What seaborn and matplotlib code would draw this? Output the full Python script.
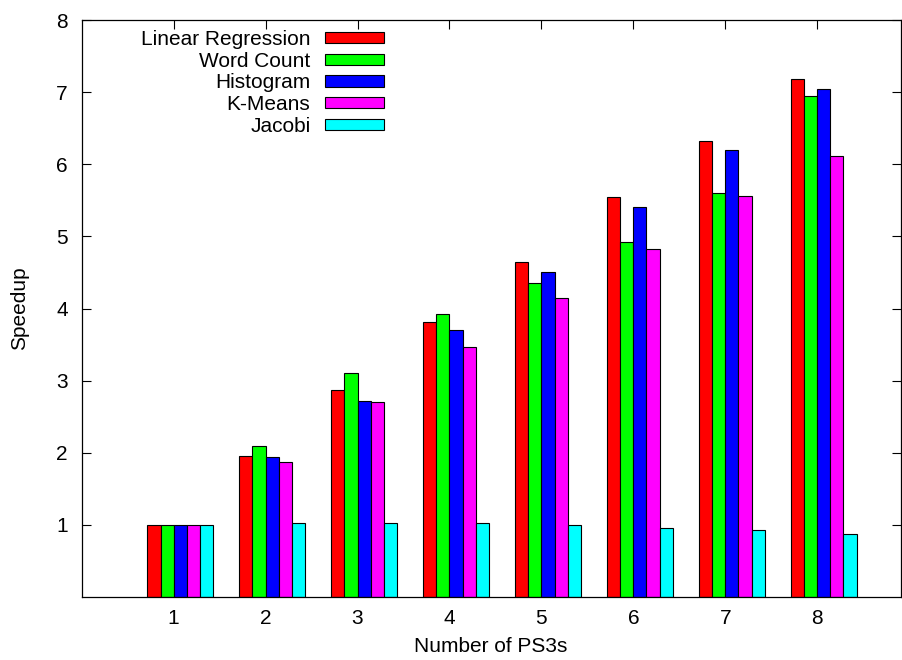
import numpy as np
import pandas as pd
import matplotlib
matplotlib.use("Agg")
import matplotlib.pyplot as plt
import seaborn as sns

# Speedup of each benchmark versus number of PS3 nodes
ps3_counts = [1, 2, 3, 4, 5, 6, 7, 8]
linear_regression = [1.00, 1.96, 2.87, 3.81, 4.64, 5.54, 6.32, 7.18]
word_count = [1.00, 2.09, 3.10, 3.93, 4.35, 4.92, 5.60, 6.95]
histogram = [1.00, 1.94, 2.72, 3.70, 4.51, 5.41, 6.20, 7.04]
k_means = [1.00, 1.87, 2.70, 3.47, 4.14, 4.82, 5.56, 6.11]
jacobi = [1.00, 1.03, 1.02, 1.03, 1.00, 0.95, 0.93, 0.88]

benchmarks = ["Linear Regression", "Word Count", "Histogram", "K-Means", "Jacobi"]
series = [linear_regression, word_count, histogram, k_means, jacobi]
colors = ["#ff0000", "#00ff00", "#0000ff", "#ff00ff", "#00ffff"]
y_ticks = [1, 2, 3, 4, 5, 6, 7, 8]

rows = []
for name, vals in zip(benchmarks, series):
    for n, v in zip(ps3_counts, vals):
        rows.append({"PS3s": n, "Speedup": v, "Benchmark": name})
df = pd.DataFrame(rows)

sns.set_style("ticks")
plt.rcParams["font.family"] = ["Liberation Sans", "DejaVu Sans"]
plt.rcParams["font.size"] = 15
plt.rcParams["text.color"] = "black"
plt.rcParams["axes.labelcolor"] = "black"

W, H = 902, 660
fig = plt.figure(figsize=(W / 100, H / 100), dpi=100)
left, right, top, bottom = 81.7, 901, 20, 597
ax = fig.add_axes([left / W, 1 - bottom / H, (right - left) / W, (bottom - top) / H])

sns.barplot(
    data=df, x="PS3s", y="Speedup", hue="Benchmark", hue_order=benchmarks,
    palette=colors, native_scale=True, width=5 / 7, saturation=1,
    edgecolor="black", linewidth=0.8, errorbar=None, ax=ax,
)

# ticks sit at the seam between the 2nd and 3rd bar of each cluster
bar_w = 1 / 7
ax.set_xticks([c - bar_w / 2 for c in ps3_counts], [str(c) for c in ps3_counts])
ax.set_xlim(-bar_w / 2, 8.84)
ax.set_ylim(0, 8)
ax.set_yticks(y_ticks, [str(t) for t in y_ticks])

for s in ax.spines.values():
    s.set_visible(True)
    s.set_linewidth(0.9)
    s.set_color("black")
ax.tick_params(axis="both", direction="in", length=6.5, width=0.8,
               top=True, right=True, labelsize=15, colors="black")
ax.tick_params(axis="y", pad=10)
ax.tick_params(axis="x", pad=9)

ax.set_xlabel("Number of PS3s", fontsize=15, color="black")
ax.set_ylabel("Speedup", fontsize=15, color="black")
ax.xaxis.set_label_coords((491 - left) / (right - left), (bottom - 647) / (bottom - top))
ax.xaxis.label.set_va("center")
ax.yaxis.set_label_coords((20 - left) / (right - left), 0.5)
ax.yaxis.label.set_va("center")

old = ax.get_legend()
handles = old.legend_handles
labels = [t.get_text() for t in old.get_texts()]
old.remove()
leg = ax.legend(
    handles, labels, loc="upper right", markerfirst=False, frameon=False,
    bbox_to_anchor=(384 / W, 1 - 30 / H), bbox_transform=fig.transFigure,
    borderpad=0, borderaxespad=0, handlelength=2.83, handleheight=0.45,
    handletextpad=0.7, labelspacing=0.13, fontsize=15,
)
for t in leg.get_texts():
    t.set_color("black")
for h in leg.legend_handles:
    h.set_edgecolor("black")
    h.set_linewidth(0.8)

fig.savefig("out.png", dpi=100)
